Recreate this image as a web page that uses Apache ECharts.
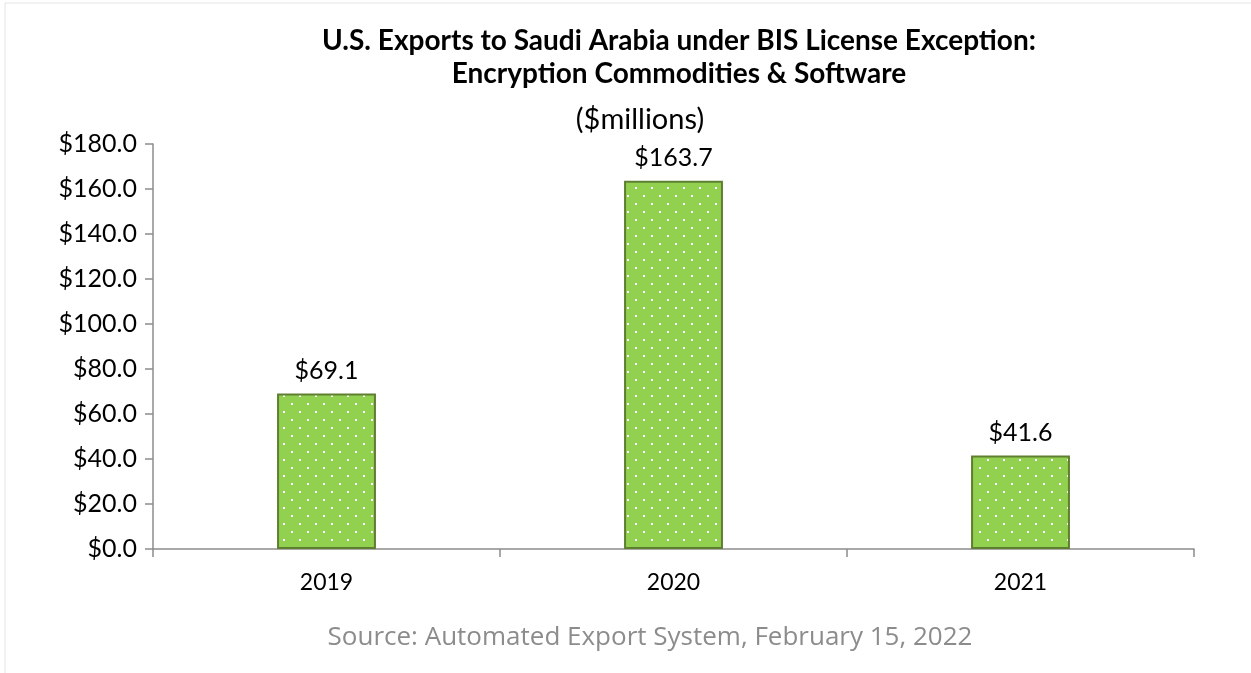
<!DOCTYPE html>
<html>
<head>
<meta charset="utf-8">
<script src="https://cdn.jsdelivr.net/npm/echarts@6/dist/echarts.min.js"></script>
<style>
  html, body { margin: 0; padding: 0; background: #fff; }
  #chart { width: 1251px; height: 673px; }
</style>
</head>
<body>
<div id="chart"></div>
<script>
// data
const years = ["2019", "2020", "2021"];
const exportsMillions = [69.1, 163.7, 41.6];
const yTicks = [0, 20, 40, 60, 80, 100, 120, 140, 160, 180];

// dotted green fill, like the office pattern fill
function dotPattern() {
  const c = document.createElement("canvas");
  c.width = 16;
  c.height = 16;
  const ctx = c.getContext("2d");
  ctx.fillStyle = "#92d050";
  ctx.fillRect(0, 0, 16, 16);
  ctx.fillStyle = "#ffffff";
  ctx.fillRect(3, 3, 2, 2);
  ctx.fillRect(11, 11, 2, 2);
  return c;
}

const font = "Lato, 'Open Sans', sans-serif";
const chart = echarts.init(document.getElementById("chart"), null, { renderer: "canvas" });

const option = {
  animation: false,
  backgroundColor: "#fff",
  title: {
    text: "U.S. Exports to Saudi Arabia under BIS License Exception:\nEncryption Commodities & Software",
    left: 674,
    top: 19,
    textAlign: "center",
    textStyle: { fontFamily: font, fontSize: 28, fontWeight: "bold", color: "#000", lineHeight: 33 }
  },
  graphic: [
    {
      type: "rect",
      shape: { x: 5, y: 3, width: 1260, height: 700 },
      style: { fill: "none", stroke: "#e4e4e4", lineWidth: 1 },
      silent: true
    },
    {
      type: "text",
      x: 640,
      y: 120,
      style: { text: "($millions)", font: "29px " + font, fill: "#000", align: "center", verticalAlign: "middle" }
    },
    {
      type: "text",
      x: 650,
      y: 638,
      style: {
        text: "Source: Automated Export System, February 15, 2022",
        font: "26px 'Open Sans', sans-serif",
        fill: "#8c8c8c",
        align: "center",
        verticalAlign: "middle"
      }
    }
  ],
  grid: { left: 153, right: 57, top: 144, bottom: 124 },
  xAxis: {
    type: "category",
    data: years,
    axisLine: { lineStyle: { color: "#8c8c8c", width: 1.5 } },
    axisTick: { show: true, length: 8, lineStyle: { color: "#8c8c8c", width: 1.5 } },
    axisLabel: { color: "#000", fontFamily: font, fontSize: 23, margin: 22 }
  },
  yAxis: {
    type: "value",
    min: yTicks[0],
    max: yTicks[yTicks.length - 1],
    interval: 20,
    axisLine: { show: true, lineStyle: { color: "#8c8c8c", width: 1.5 } },
    axisTick: { show: true, length: 8, lineStyle: { color: "#8c8c8c", width: 1.5 } },
    splitLine: { show: false },
    axisLabel: {
      color: "#000",
      fontFamily: font,
      fontSize: 25,
      margin: 16,
      formatter: v => "$" + v.toFixed(1)
    }
  },
  series: [
    {
      type: "bar",
      data: exportsMillions,
      barWidth: "28.5%",
      itemStyle: {
        color: { image: dotPattern(), repeat: "repeat" },
        borderColor: "#5f7f30",
        borderWidth: 2
      },
      label: {
        show: true,
        position: "top",
        distance: 10,
        color: "#000",
        fontFamily: font,
        fontSize: 25,
        formatter: p => "$" + p.value.toFixed(1)
      }
    }
  ]
};
chart.setOption(option);
</script>
</body>
</html>
